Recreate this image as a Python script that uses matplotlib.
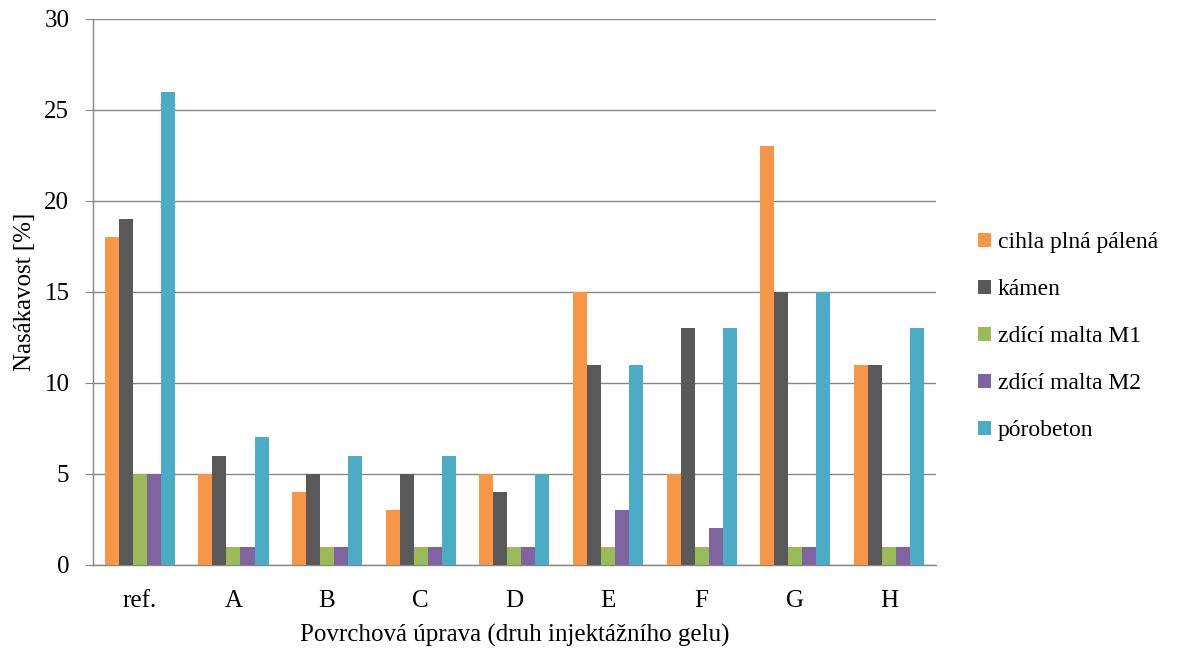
import numpy as np
import matplotlib.pyplot as plt

plt.rcParams['font.family'] = ['Liberation Serif', 'DejaVu Serif']

categories = ['ref.', 'A', 'B', 'C', 'D', 'E', 'F', 'G', 'H']
series_names = ['cihla plná pálená', 'kámen', 'zdící malta M1', 'zdící malta M2', 'pórobeton']
cihla = [18, 5, 4, 3, 5, 15, 5, 23, 11]
kamen = [19, 6, 5, 5, 4, 11, 13, 15, 11]
malta_m1 = [5, 1, 1, 1, 1, 1, 1, 1, 1]
malta_m2 = [5, 1, 1, 1, 1, 3, 2, 1, 1]
porobeton = [26, 7, 6, 6, 5, 11, 13, 15, 13]
colors = ['#F79646', '#595959', '#9BBB59', '#8064A2', '#4BACC6']

fig = plt.figure(figsize=(11.92, 6.5), dpi=100)
ax = fig.add_axes([0.078, 0.131, 0.707, 0.840])

x = np.arange(len(categories))
w = 0.15
data = [cihla, kamen, malta_m1, malta_m2, porobeton]
for i, (vals, name, col) in enumerate(zip(data, series_names, colors)):
    ax.bar(x + (i - 2) * w, vals, w, color=col, label=name, zorder=3)

ax.set_xlim(-0.5, len(categories) - 0.5)
ax.set_ylim(0, 30)
ax.set_yticks(range(0, 31, 5))
ax.set_xticks(x)
ax.set_xticklabels(categories)
ax.tick_params(axis='both', labelsize=18, colors='#000000')
ax.tick_params(axis='y', length=6, color='#868686', pad=11)
ax.tick_params(axis='x', length=0, pad=18)
ax.grid(axis='y', color='#868686', linewidth=1, zorder=0)
for s in ['top', 'right']:
    ax.spines[s].set_visible(False)
for s in ['left', 'bottom']:
    ax.spines[s].set_color('#868686')
    ax.spines[s].set_linewidth(1)

ax.set_xlabel('Povrchová úprava (druh injektážního gelu)', fontsize=18, labelpad=9)
ax.set_ylabel('Nasákavost [%]', fontsize=18, labelpad=6)

ax.legend(loc='center left', bbox_to_anchor=(1.025, 0.418), frameon=False,
          fontsize=17, handlelength=0.55, handleheight=0.55, handletextpad=0.3,
          labelspacing=1.1)

fig.savefig('out.png', dpi=100)
